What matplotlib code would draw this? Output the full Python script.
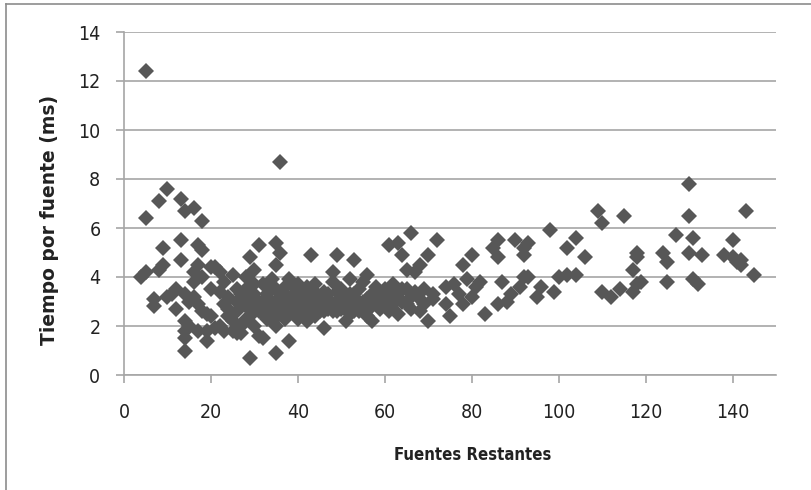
import numpy as np
import matplotlib.pyplot as plt
from matplotlib.lines import Line2D

plt.rcParams['font.family'] = ['DejaVu Sans']
plt.rcParams['font.stretch'] = 'condensed'

# ---- D A T A ---- #
x_a = [5, 5, 4, 5, 7, 7, 8, 8, 9, 9, 10, 10, 11, 12, 12, 13, 13, 13, 14, 14,
       14, 14, 14, 14, 15, 15, 16, 16, 16, 16, 17, 17, 17, 17, 18, 18, 18, 18,
       19, 19, 19, 20, 20, 20]
y_a = [12.4, 6.4, 4.0, 4.2, 3.1, 2.8, 4.3, 7.1, 4.5, 5.2, 7.6, 3.2, 3.3, 2.7,
       3.5, 7.2, 5.5, 4.7, 6.7, 3.3, 2.2, 1.8, 1.5, 1.0, 3.0, 2.0, 6.8, 4.2,
       3.8, 3.2, 5.3, 4.5, 2.9, 1.8, 6.3, 5.1, 4.0, 2.6, 2.5, 1.4, 1.8, 4.4,
       2.4, 3.5]

x_b = [21, 21, 22, 22, 22, 23, 23, 24, 24, 25, 25, 25, 26, 26, 26, 27, 27, 27,
       28, 28, 28, 29, 29, 29, 29, 30, 30, 30, 30, 31, 31, 31, 32, 32, 32, 33,
       33, 34, 34, 35, 35, 35, 35, 35, 36, 36, 36, 36, 37, 37, 38, 38, 38, 39,
       39, 40, 40]
y_b = [4.4, 1.9, 4.2, 3.4, 2.0, 3.8, 1.8, 3.2, 2.4, 4.1, 2.2, 1.8, 2.6, 1.7,
       3.5, 3.0, 2.0, 1.7, 3.5, 2.8, 4.0, 4.8, 0.7, 2.4, 3.2, 4.3, 3.7, 2.9,
       2.0, 5.3, 3.0, 1.6, 3.7, 2.5, 1.5, 3.3, 2.8, 3.9, 2.2, 5.4, 4.5, 3.5,
       2.0, 0.9, 8.7, 5.0, 3.2, 2.5, 3.6, 2.8, 3.9, 1.4, 2.5, 3.3, 2.9, 3.7,
       2.7]

x_c = [41, 41, 42, 42, 43, 43, 44, 44, 45, 45, 46, 46, 47, 47, 48, 48, 48, 49,
       49, 50, 50, 51, 51, 52, 52, 53, 53, 54, 54, 55, 55, 56, 56, 57, 57, 58,
       58, 59, 60, 60]
y_c = [3.5, 2.5, 3.2, 2.2, 4.9, 2.9, 3.4, 2.4, 3.1, 2.6, 1.9, 3.0, 3.3, 2.7,
       4.2, 2.6, 3.8, 4.9, 3.0, 3.5, 2.7, 2.2, 3.1, 3.9, 2.5, 4.7, 2.9, 3.5,
       2.6, 3.0, 3.8, 4.1, 2.4, 2.2, 3.3, 2.9, 3.6, 3.2, 2.8, 3.5]

# dense cluster filler
x_d = [23, 24, 26, 27, 28, 29, 30, 31, 32, 33, 33, 34, 34, 35, 36, 37, 37, 38,
       39, 39, 40, 40, 41, 42, 42, 43, 43, 44, 44, 45, 46, 46, 47, 48, 49, 49,
       50, 51, 52, 53, 53, 54, 55, 56, 57, 58, 59, 60, 61, 62, 63, 64, 65, 66,
       67, 68, 69, 71]
y_d = [2.9, 2.7, 3.0, 3.3, 2.3, 2.7, 3.3, 2.6, 3.0, 3.6, 2.3, 3.0, 2.7, 3.0,
       2.9, 3.3, 2.3, 3.1, 3.6, 2.5, 3.1, 2.3, 3.0, 2.7, 3.6, 3.2, 2.5, 2.9,
       3.7, 2.8, 3.4, 2.6, 3.0, 2.9, 2.6, 3.4, 3.0, 2.7, 3.3, 2.6, 3.3, 3.0,
       2.7, 3.1, 2.8, 3.3, 2.7, 3.1, 3.4, 2.9, 3.3, 3.0, 3.5, 2.7, 3.4, 3.1,
       2.9, 3.3]

x_e = [61, 61, 62, 62, 63, 63, 64, 64, 65, 65, 66, 66, 67, 68, 68, 69, 70, 70,
       71, 72, 74, 74, 75, 76, 77, 78, 78, 79, 80, 80]
y_e = [5.3, 2.6, 3.2, 3.7, 5.4, 2.5, 4.9, 3.5, 4.3, 2.9, 5.8, 3.2, 4.2, 4.5,
       2.6, 3.5, 2.2, 4.9, 3.1, 5.5, 2.9, 3.6, 2.4, 3.7, 3.3, 4.5, 2.9, 3.9,
       4.9, 3.2]

x_f = [81, 82, 83, 85, 86, 86, 86, 87, 88, 89, 90, 91, 92, 92, 92, 93, 93, 95,
       96, 98, 99, 100]
y_f = [3.6, 3.8, 2.5, 5.2, 5.5, 4.8, 2.9, 3.8, 3.0, 3.3, 5.5, 3.6, 5.2, 4.9,
       4.0, 5.4, 4.0, 3.2, 3.6, 5.9, 3.4, 4.0]

x_g = [102, 102, 104, 104, 106, 109, 110, 110, 112, 114, 115, 117, 117, 118,
       118, 118, 119]
y_g = [4.1, 5.2, 4.1, 5.6, 4.8, 6.7, 6.2, 3.4, 3.2, 3.5, 6.5, 4.3, 3.4, 5.0,
       4.8, 3.7, 3.8]

x_h = [124, 125, 125, 127, 130, 130, 130, 131, 131, 132, 133, 138, 140, 140,
       141, 142, 142, 143, 145]
y_h = [5.0, 4.6, 3.8, 5.7, 7.8, 6.5, 5.0, 5.6, 3.9, 3.7, 4.9, 4.9, 5.5, 4.8,
       4.6, 4.7, 4.5, 6.7, 4.1]

fuentes = x_a + x_b + x_c + x_d + x_e + x_f + x_g + x_h
tiempo = y_a + y_b + y_c + y_d + y_e + y_f + y_g + y_h

x_ticks = [0, 20, 40, 60, 80, 100, 120, 140]
y_ticks = [0, 2, 4, 6, 8, 10, 12, 14]

# ---- P L O T ---- #
fig = plt.figure(figsize=(8.12, 4.9), dpi=100)
ax = fig.add_axes([124/812, 115/490, 652/812, 343/490])

ax.plot(fuentes, tiempo, linestyle='none', marker='D', markersize=8.5,
        color='#575757', markeredgewidth=0)

ax.set_xlim(0, 150)
ax.set_ylim(0, 14)
ax.set_xticks(x_ticks)
ax.set_yticks(y_ticks)
ax.grid(axis='y', color='#a6a6a6', linewidth=1.2)
ax.set_axisbelow(True)

for s in ['top', 'right']:
   ax.spines[s].set_visible(False)
for s in ['left', 'bottom']:
   ax.spines[s].set_color('#a6a6a6')
   ax.spines[s].set_linewidth(1.2)
ax.tick_params(colors='#a6a6a6', labelcolor='#222222', length=6, width=1.2,
               labelsize=14)
ax.tick_params(axis='x', pad=14)
ax.tick_params(axis='y', pad=11)

ax.set_xlabel('Fuentes Restantes', fontsize=12, fontweight='bold',
              color='#222222')
ax.xaxis.set_label_coords(0.535, -0.233)
ax.xaxis.label.set_verticalalignment('center')
ax.set_ylabel('Tiempo por fuente (ms)', fontsize=13.5, fontweight='bold',
              color='#222222', fontstretch='normal')
ax.yaxis.set_label_coords(-0.1135, 0.452)
ax.yaxis.label.set_verticalalignment('center')

# outer chart frame
fig.add_artist(Line2D([6/812, 6/812], [0, 1 - 4/490], color='#8c8c8c', lw=1.2))
fig.add_artist(Line2D([6/812, 1], [1 - 4/490, 1 - 4/490], color='#8c8c8c', lw=1.2))

fig.savefig('out.png', dpi=100)
